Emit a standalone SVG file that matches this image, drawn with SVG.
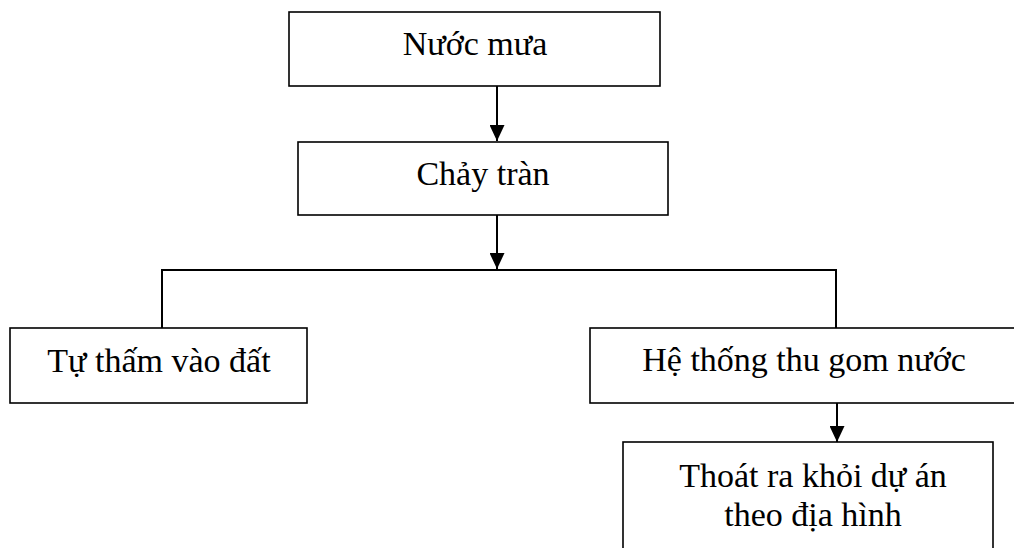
<svg xmlns="http://www.w3.org/2000/svg" width="1014" height="548" viewBox="0 0 1014 548">
  <style>
    .box { fill: #ffffff; stroke: #000000; stroke-width: 1.6; }
    .lbl { font-family: "Liberation Serif", "Times New Roman", serif; font-size: 34px; fill: #000000; text-anchor: middle; }
    .wire { fill: none; stroke: #000000; stroke-width: 2; }
  </style>
  <defs>
    <!-- solid triangular head, tip at the line end -->
    <marker id="arrow" markerWidth="16" markerHeight="15" refX="16" refY="7.5" orient="auto" markerUnits="userSpaceOnUse" viewBox="0 0 16 15">
      <path d="M0,0 L16,7.5 L0,15 Z" fill="#000000"/>
    </marker>
  </defs>

  <rect width="1014" height="548" fill="#ffffff"/>

  <g id="connectors">
    <line class="wire" x1="497" y1="86" x2="497" y2="141" marker-end="url(#arrow)"/>
    <line class="wire" x1="497" y1="215" x2="497" y2="269" marker-end="url(#arrow)"/>
    <polyline class="wire" points="162,328 162,270 836,270 836,328"/>
    <line class="wire" x1="837" y1="403" x2="837" y2="442" marker-end="url(#arrow)"/>
  </g>

  <g id="node-rain">
    <rect class="box" x="289" y="12" width="371" height="74"/>
    <text class="lbl" x="475" y="55">Nước mưa</text>
  </g>

  <g id="node-runoff">
    <rect class="box" x="298" y="142" width="370" height="73"/>
    <text class="lbl" x="483" y="185">Chảy tràn</text>
  </g>

  <g id="node-infiltrate">
    <rect class="box" x="10" y="328" width="297" height="75"/>
    <text class="lbl" x="159" y="372">Tự thấm vào đất</text>
  </g>

  <g id="node-collect">
    <rect class="box" x="590" y="328" width="430" height="75"/>
    <text class="lbl" x="804" y="371">Hệ thống thu gom nước</text>
  </g>

  <g id="node-discharge">
    <rect class="box" x="623" y="442" width="370" height="120"/>
    <text class="lbl" x="813" y="487">Thoát ra khỏi dự án</text>
    <text class="lbl" x="813" y="526">theo địa hình</text>
  </g>
</svg>
